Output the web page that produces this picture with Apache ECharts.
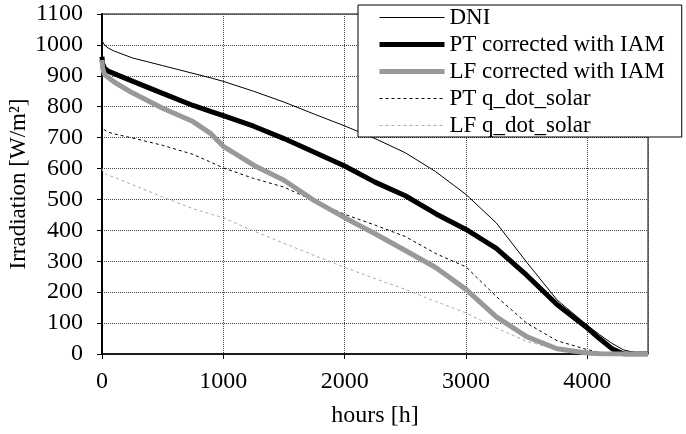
<!DOCTYPE html>
<html>
<head>
<meta charset="utf-8">
<script src="https://cdn.jsdelivr.net/npm/echarts@6/dist/echarts.min.js"></script>
<style>html,body{margin:0;padding:0;background:#fff}#c{width:686px;height:434px}</style>
</head>
<body>
<div id="c"></div>
<script>
const hours = [0,5,20,50,100,250,500,750,900,1000,1250,1500,1750,2000,2250,2500,2750,3000,3250,3500,3750,4000,4100,4200,4300,4400,4500];
const dni   = [1040,1010,1000,990,980,958,933,908,893,882,850,815,776,738,697,651,590,516,424,297,175,93,63,35,13,4,0];
const ptIam = [962,940,925,915,907,883,843,804,784,771,737,697,653,608,556,512,454,403,342,255,160,84,50,18,0,0,0];
const lfIam = [951,925,905,895,880,845,795,752,712,672,611,562,496,441,389,335,280,209,120,56,17,3,1,0,0,0,0];
const ptQ   = [745,735,725,718,712,699,675,646,620,602,568,540,495,452,417,380,325,282,186,100,43,14,6,2,0,0,0];
const lfQ   = [600,592,585,578,572,548,508,470,452,441,398,358,319,280,244,209,170,133,84,41,14,3,1,0,0,0,0];
const seriesNames = ['DNI','PT corrected with IAM','LF corrected with IAM','PT q_dot_solar','LF q_dot_solar'];

const styles = [
  {color:'#000',width:1,type:'solid'},
  {color:'#000',width:5,type:'solid'},
  {color:'#999',width:5,type:'solid'},
  {color:'#000',width:1,type:[3,3]},
  {color:'#aaa',width:1,type:[3,3]}
];
const valuesList = [dni, ptIam, lfIam, ptQ, lfQ];
const pair = v => hours.map((h,i)=>[h,v[i]]);
const font = 'Liberation Serif';
const chart = echarts.init(document.getElementById('c'));
chart.setOption({
  animation:false,
  grid:{left:102,right:38,top:14,bottom:80,show:true,borderColor:'#000',borderWidth:1,containLabel:false,outerBoundsMode:'none'},
  legend:{
    orient:'vertical',left:358,top:5,
    padding:[1,17,0,19],itemGap:4,itemWidth:65,itemHeight:14,
    backgroundColor:'#fff',borderColor:'#000',borderWidth:1,
    itemStyle:{opacity:0},
    textStyle:{fontFamily:font,fontSize:23,color:'#000',lineHeight:23},
    data:seriesNames.map((n,i)=>({name:n,lineStyle:{width:styles[i].width,color:styles[i].color,type:styles[i].type}}))
  },
  xAxis:{type:'value',min:0,max:4500,interval:1000,
    name:'hours [h]',nameLocation:'middle',nameGap:50,nameMoveOverlap:false,
    nameTextStyle:{fontFamily:font,fontSize:24,color:'#000'},
    axisLine:{lineStyle:{color:'#000',width:1.5}},
    axisTick:{show:true,length:5,lineStyle:{color:'#000'}},
    axisLabel:{fontFamily:font,fontSize:24,color:'#000',margin:16,showMaxLabel:false,formatter:v=>String(v)},
    splitLine:{show:true,lineStyle:{type:'dotted',color:'#444',width:1}}
  },
  yAxis:{type:'value',min:0,max:1100,interval:100,
    name:'Irradiation [W/m²]',nameLocation:'middle',nameGap:72,nameMoveOverlap:false,
    nameTextStyle:{fontFamily:font,fontSize:23,color:'#000'},
    axisLine:{show:true,lineStyle:{color:'#000',width:2}},
    axisTick:{show:true,length:5,lineStyle:{color:'#000'}},
    axisLabel:{fontFamily:font,fontSize:24,color:'#000',margin:19,formatter:v=>String(v)},
    splitLine:{show:true,lineStyle:{type:'dotted',color:'#444',width:1}}
  },
  series:valuesList.map((v,i)=>({
    name:seriesNames[i],type:'line',data:pair(v),symbol:'none',
    lineStyle:styles[i],itemStyle:{color:styles[i].color},
    z:(i===1||i===2)?3+i:2
  }))
});
</script>
</body>
</html>
